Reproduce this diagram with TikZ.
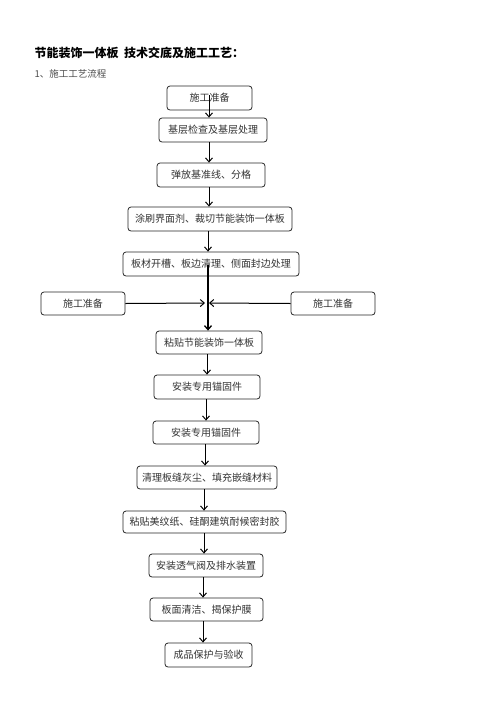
\documentclass[tikz,border=0pt]{standalone}
\usepackage{fontspec}
\newfontfamily\cjk{Noto Sans CJK SC}
\usetikzlibrary{arrows.meta}
\begin{document}
\begin{tikzpicture}[x=1pt,y=-1pt,
  box/.style={draw=black!85,line width=0.8pt,rounded corners=3pt,inner sep=0pt,
    font=\cjk\fontsize{10}{12}\selectfont,text=black!80},
  arr/.style={draw=black,line width=1pt,-{Straight Barb[length=4pt,width=7pt]}}]
\useasboundingbox (0,0) rectangle (496,702);
\node[anchor=west,font=\cjk\bfseries\fontsize{12}{14}\selectfont] (title) at (31,53) {节能装饰一体板\ \ 技术交底及施工工艺：};
\node[anchor=west,font=\cjk\fontsize{9.5}{11}\selectfont,text=black!70] (sub) at (31,74) {1、施工工艺流程};
\node[box,minimum width=85pt,minimum height=24pt] (b1) at (209.5,98) {施工准备};
\node[box,minimum width=108pt,minimum height=24pt] (b2) at (213,130) {基层检查及基层处理};
\node[box,minimum width=108pt,minimum height=24pt] (b3) at (211,175) {弹放基准线、分格};
\node[box,minimum width=164pt,minimum height=24pt] (b4) at (210,219) {涂刷界面剂、裁切节能装饰一体板};
\node[box,minimum width=176pt,minimum height=24pt] (b5) at (211,264) {板材开槽、板边清理、侧面封边处理};
\node[box,minimum width=84pt,minimum height=23pt] (L) at (83,303.5) {施工准备};
\node[box,minimum width=84pt,minimum height=23pt] (R) at (333,303.5) {施工准备};
\node[box,minimum width=106pt,minimum height=23pt] (b6) at (209,342.5) {粘贴节能装饰一体板};
\node[box,minimum width=106pt,minimum height=24pt] (b7) at (207,387) {安装专用锚固件};
\node[box,minimum width=106pt,minimum height=23pt] (b8) at (206,432.5) {安装专用锚固件};
\node[box,minimum width=140pt,minimum height=23pt] (b9) at (207,477.5) {清理板缝灰尘、填充嵌缝材料};
\node[box,minimum width=163pt,minimum height=22pt] (b10) at (204.5,522) {粘贴美纹纸、硅酮建筑耐候密封胶};
\node[box,minimum width=114pt,minimum height=23pt] (b11) at (206,565.5) {安装透气阀及排水装置};
\node[box,minimum width=113pt,minimum height=23pt] (b12) at (206.5,609.5) {板面清洁、揭保护膜};
\node[box,minimum width=87pt,minimum height=24pt] (b13) at (208.5,655) {成品保护与验收};
\coordinate (s1) at (209,95);
\coordinate (s5) at (208,265);
\coordinate (jl) at (205,303);
\coordinate (jr) at (209,303);
\draw[arr] (s1) -- (209,0 |- b2.north);
\draw[arr] (209,0 |- b2.south) -- (209,0 |- b3.north);
\draw[arr] (209,0 |- b3.south) -- (209,0 |- b4.north);
\draw[arr] (208,0 |- b4.south) -- (208,0 |- b5.north);
\draw[arr,line width=1.3pt] (s5) -- (208,0 |- b6.north);
\draw[arr] (L.east) -- (jl);
\draw[arr] (R.west) -- (jr);
\draw[arr] (207,0 |- b6.south) -- (207,0 |- b7.north);
\draw[arr] (206,0 |- b7.south) -- (206,0 |- b8.north);
\draw[arr] (205,0 |- b8.south) -- (205,0 |- b9.north);
\draw[arr] (204,0 |- b9.south) -- (204,0 |- b10.north);
\draw[arr] (204,0 |- b10.south) -- (204,0 |- b11.north);
\draw[arr] (203,0 |- b11.south) -- (203,0 |- b12.north);
\draw[arr] (203,0 |- b12.south) -- (203,0 |- b13.north);
\end{tikzpicture}
\end{document}
